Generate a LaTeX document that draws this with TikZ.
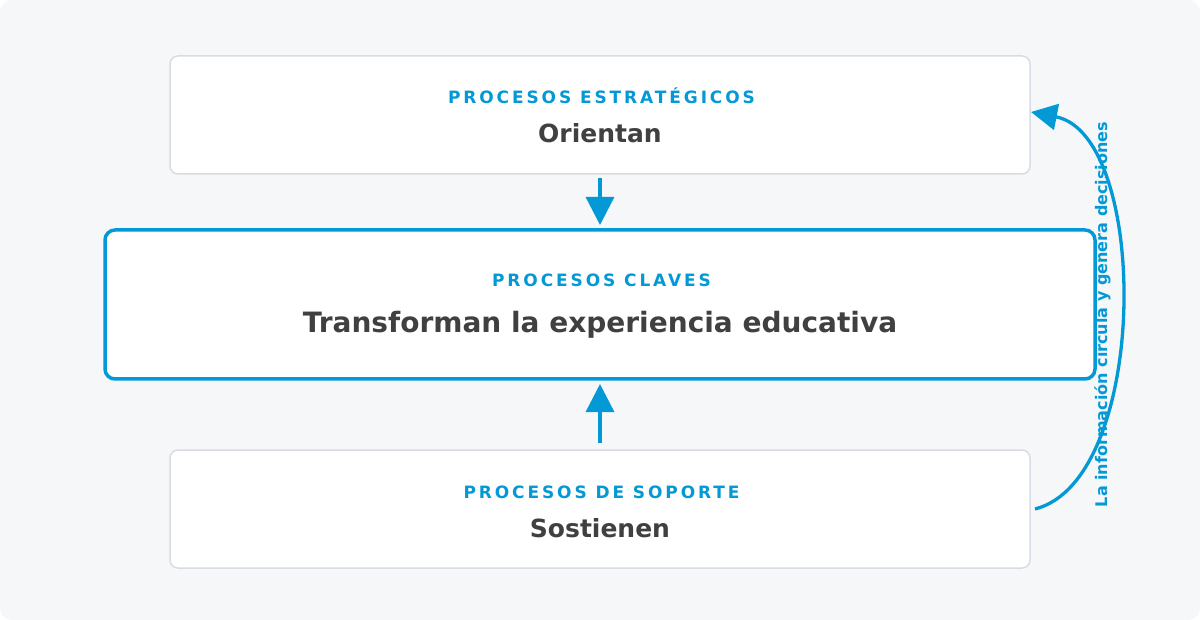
\documentclass[tikz,border=0pt]{standalone}
\usepackage{fontspec}
\setmainfont{DejaVu Sans}
\newfontfamily\lblfont[LetterSpace=17]{DejaVu Sans}
\usetikzlibrary{arrows.meta}
\definecolor{bgc}{HTML}{F6F7F9}
\definecolor{bordc}{HTML}{D9DCE4}
\definecolor{bluec}{HTML}{0399D6}
\definecolor{textc}{HTML}{404040}
\tikzset{
  box/.style={draw=bordc, line width=1.5pt, fill=white, rounded corners=8pt, outer sep=0pt, inner sep=0pt},
  keybox/.style={draw=bluec, line width=3.5pt, fill=white, rounded corners=10pt, outer sep=0pt, inner sep=0pt},
  lbl/.style={font=\lblfont\bfseries\fontsize{17pt}{20pt}\selectfont, text=bluec, anchor=base, inner sep=0pt},
  ttl/.style={font=\bfseries\fontsize{25pt}{29pt}\selectfont, text=textc, anchor=base, inner sep=0pt},
  bigttl/.style={font=\bfseries\fontsize{28pt}{33pt}\selectfont, text=textc, anchor=base, inner sep=0pt},
  conn/.style={draw=bluec, line width=3.3pt},
  tipA/.style={-{Triangle[length=28pt,width=28pt]}},
}
\begin{document}
\begin{tikzpicture}[x=1pt,y=-1pt]
\fill[white] (0,0) rectangle (1200,620);
\fill[bgc, rounded corners=12pt] (0,0) rectangle (1200,620);
\useasboundingbox (0,0) rectangle (1200,620);

\node[box, minimum width=860pt, minimum height=118pt] (top) at (600,115) {};
\node[keybox, minimum width=990pt, minimum height=149pt] (mid) at (600,304.5) {};
\node[box, minimum width=860pt, minimum height=118pt] (bot) at (600,509) {};

\node[lbl] (toplbl) at (601.5,104) {PROCESOS ESTRATÉGICOS};
\node[ttl] (toptxt) at (600,143) {Orientan};
\node[lbl] (midlbl) at (601.5,287) {PROCESOS CLAVES};
\node[bigttl] (midtxt) at (600,333) {Transforman la experiencia educativa};
\node[lbl] (botlbl) at (601.5,498) {PROCESOS DE SOPORTE};
\node[ttl] (bottxt) at (600,537) {Sostienen};

\draw[conn, tipA] ([yshift=-4pt]top.south) -- ([yshift=5pt]mid.north);
\draw[conn, tipA] ([yshift=7pt]bot.north) -- ([yshift=-5pt]mid.south);

\draw[conn, -{Triangle[length=26pt,width=26pt]}] ([xshift=5pt]bot.east) .. controls (1150,480) and (1150,135) .. ([shift={(1pt,3pt)}]top.east);

\node[rotate=90, font=\bfseries\fontsize{16pt}{19pt}\selectfont, text=bluec, inner sep=0pt] (note) at (1103,314.5) {La información circula y genera decisiones};
\end{tikzpicture}
\end{document}
